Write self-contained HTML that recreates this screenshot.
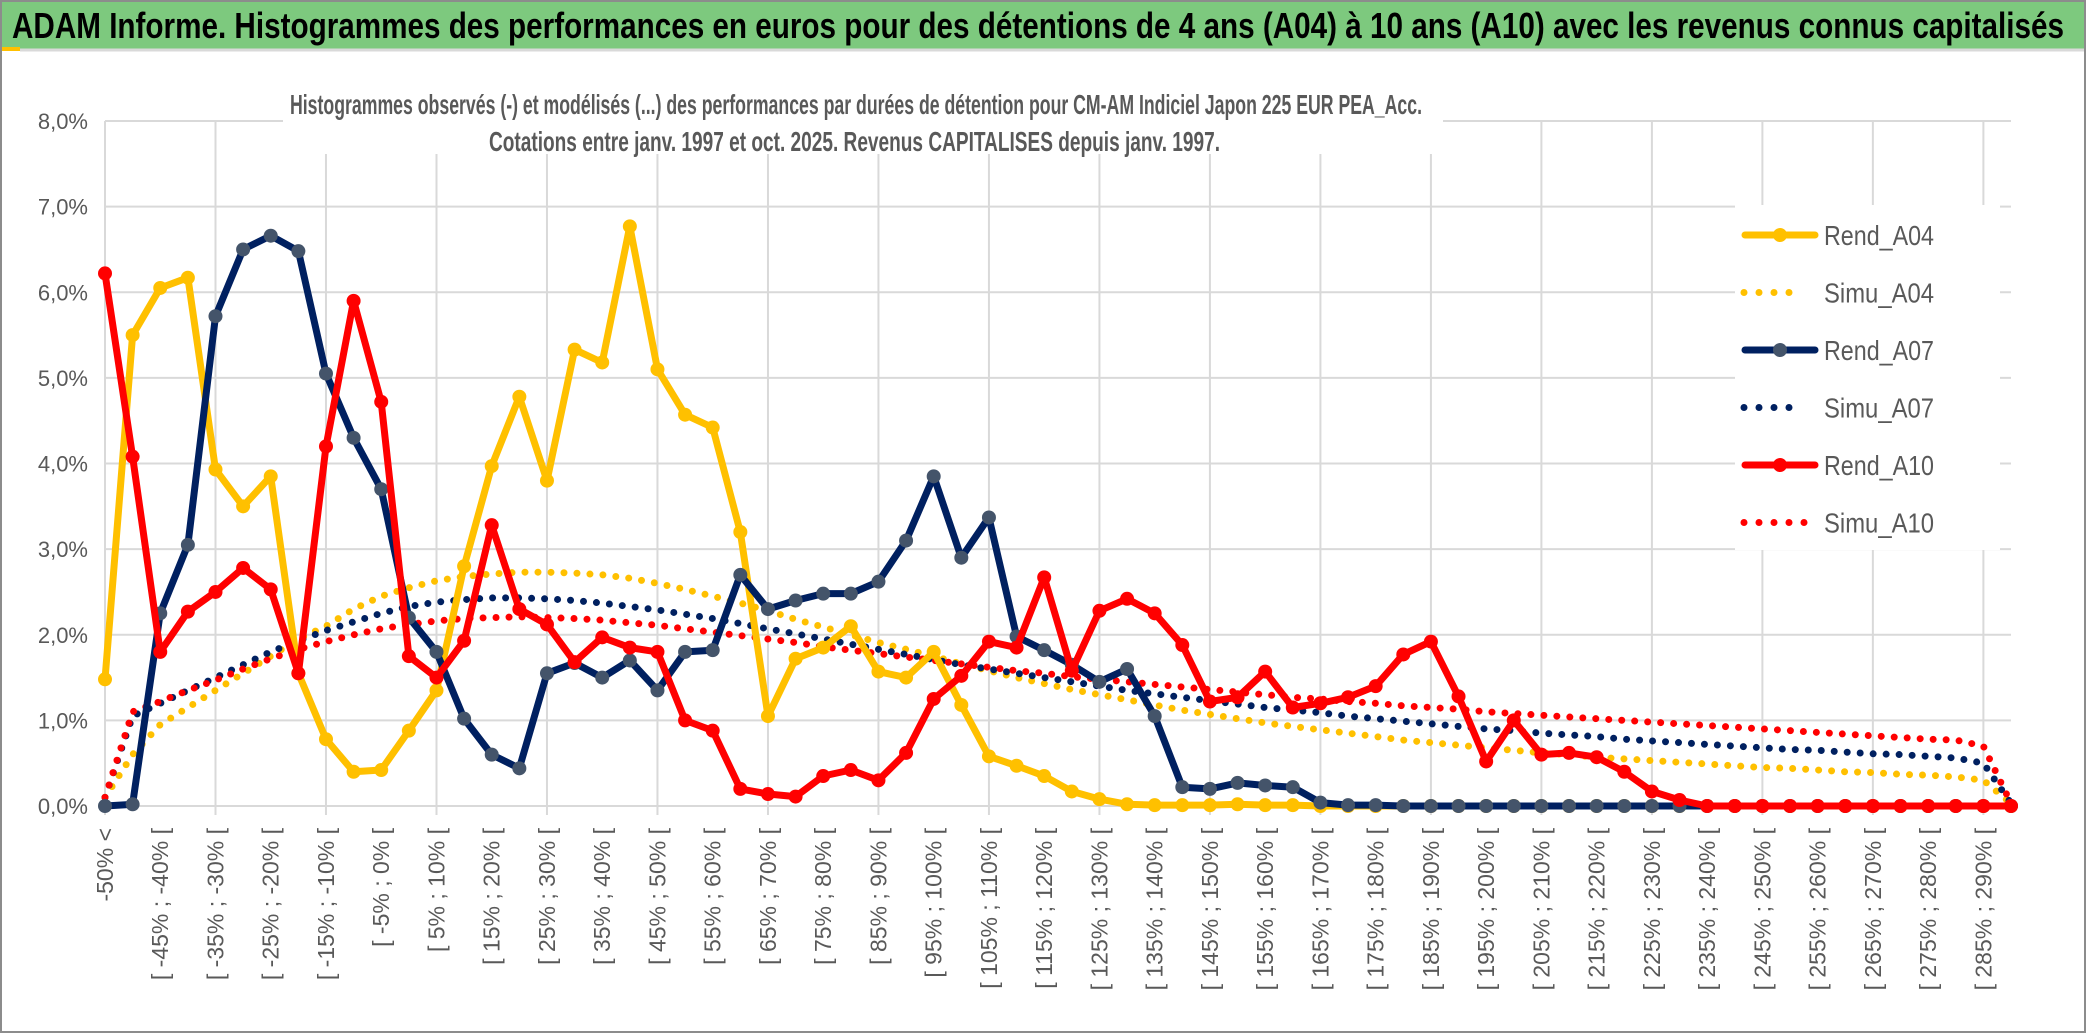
<!DOCTYPE html>
<html><head><meta charset="utf-8"><style>
html,body{margin:0;padding:0;background:#fff}
svg{display:block}
text{font-family:"Liberation Sans",sans-serif}
</style></head><body>
<svg id="chart" width="2086" height="1033" viewBox="0 0 2086 1033" xmlns="http://www.w3.org/2000/svg">
<rect x="0" y="0" width="2086" height="1033" fill="#fff"/>
<rect x="1" y="1" width="2084" height="1031" fill="none" stroke="#8c8c8c" stroke-width="2"/>
<rect x="2" y="2" width="2082" height="47" fill="#7dc97e"/>
<rect x="2" y="47" width="18" height="4" fill="#ffc000"/>
<line x1="20" y1="50" x2="2084" y2="50" stroke="#d9d9d9" stroke-width="3"/>
<text x="12" y="38" font-size="36" font-weight="bold" fill="#000" textLength="2052" lengthAdjust="spacingAndGlyphs">ADAM Informe. Histogrammes des performances en euros pour des détentions de 4 ans (A04) à 10 ans (A10) avec les revenus connus capitalisés</text>
<g id="grid"></g>
<rect x="283" y="90" width="1160" height="64" fill="#fff"/>
<text x="290" y="114" font-size="28" font-weight="bold" fill="#595959" textLength="1132" lengthAdjust="spacingAndGlyphs">Histogrammes observés (-) et modélisés (...) des performances par durées de détention pour CM-AM Indiciel Japon 225 EUR PEA_Acc.</text>
<text x="489" y="151" font-size="28" font-weight="bold" fill="#595959" textLength="731" lengthAdjust="spacingAndGlyphs">Cotations entre janv. 1997 et oct. 2025. Revenus CAPITALISES depuis janv. 1997.</text>
<g id="yaxis"></g>
<g id="xaxis"></g>
<g id="series"></g>
<g id="legend"></g>
</svg>
<script>
const rendA04 = [1.48,5.5,6.05,6.17,3.93,3.5,3.85,1.55,0.78,0.4,0.42,0.88,1.35,2.8,3.97,4.78,3.8,5.33,5.18,6.77,5.1,4.57,4.42,3.2,1.05,1.72,1.85,2.1,1.57,1.5,1.8,1.18,0.58,0.47,0.35,0.17,0.08,0.02,0.01,0.01,0.01,0.02,0.01,0.01,0,0,0,0,0,0,0,0,0,0,0,0,0,0,0,0,0,0,0,0,0,0,0,0,0,0];
const simuA04 = [0.1,0.6,0.95,1.15,1.35,1.55,1.75,1.95,2.1,2.3,2.45,2.55,2.63,2.68,2.71,2.73,2.73,2.72,2.7,2.66,2.6,2.53,2.45,2.37,2.28,2.18,2.09,2.0,1.91,1.83,1.75,1.66,1.58,1.5,1.43,1.36,1.3,1.24,1.18,1.12,1.07,1.02,0.97,0.93,0.89,0.85,0.81,0.77,0.74,0.71,0.68,0.65,0.62,0.6,0.57,0.55,0.53,0.51,0.49,0.47,0.45,0.44,0.42,0.4,0.39,0.37,0.36,0.34,0.3,0.03];
const rendA07 = [0,0.02,2.25,3.05,5.72,6.5,6.66,6.48,5.05,4.3,3.7,2.2,1.8,1.02,0.6,0.44,1.55,1.67,1.5,1.7,1.35,1.8,1.82,2.7,2.3,2.4,2.48,2.48,2.62,3.1,3.85,2.9,3.37,1.98,1.82,1.65,1.45,1.6,1.05,0.22,0.2,0.27,0.24,0.22,0.04,0.01,0.01,0,0,0,0,0,0,0,0,0,0,0,0,0,0,0,0,0,0,0,0,0,0,0];
const simuA07 = [0.1,1.05,1.2,1.35,1.5,1.65,1.8,1.93,2.05,2.15,2.25,2.33,2.38,2.41,2.43,2.43,2.42,2.4,2.37,2.33,2.29,2.24,2.19,2.13,2.07,2.01,1.95,1.89,1.83,1.77,1.71,1.65,1.6,1.55,1.5,1.45,1.4,1.35,1.31,1.27,1.23,1.19,1.15,1.12,1.09,1.05,1.02,0.99,0.96,0.93,0.9,0.88,0.85,0.83,0.81,0.78,0.76,0.74,0.72,0.7,0.68,0.66,0.65,0.63,0.61,0.6,0.58,0.56,0.5,0.03];
const rendA10 = [6.22,4.08,1.8,2.27,2.5,2.78,2.53,1.55,4.2,5.9,4.72,1.75,1.5,1.93,3.28,2.3,2.12,1.68,1.97,1.85,1.8,1.0,0.88,0.2,0.14,0.11,0.35,0.42,0.3,0.62,1.25,1.52,1.92,1.85,2.67,1.58,2.28,2.42,2.25,1.88,1.22,1.27,1.57,1.15,1.2,1.27,1.4,1.77,1.92,1.28,0.52,1.0,0.6,0.62,0.57,0.4,0.17,0.07,0,0,0,0,0,0,0,0,0,0,0,0];
const simuA10 = [0.1,1.1,1.22,1.35,1.47,1.6,1.72,1.83,1.92,2.0,2.07,2.12,2.16,2.19,2.2,2.21,2.2,2.19,2.17,2.14,2.11,2.07,2.03,1.99,1.95,1.91,1.86,1.82,1.78,1.74,1.7,1.66,1.62,1.58,1.55,1.51,1.48,1.45,1.42,1.39,1.36,1.33,1.3,1.27,1.25,1.22,1.2,1.17,1.15,1.13,1.1,1.08,1.06,1.04,1.02,1.0,0.98,0.96,0.94,0.92,0.9,0.88,0.86,0.84,0.82,0.8,0.78,0.77,0.7,0.03];
const yTicks = [0,1,2,3,4,5,6,7,8];
const yTickLabels = ["0,0%","1,0%","2,0%","3,0%","4,0%","5,0%","6,0%","7,0%","8,0%"];
const categories = ["-50% <"];
for (let i = 1; i < 70; i++) categories.push("[ " + (-55 + 5*i) + "% ; " + (-50 + 5*i) + "% [");

const NS = "http://www.w3.org/2000/svg";
const X0 = 105, X1 = 2011, Y0 = 806, Y8 = 121, YMAX = 8;
const xs = i => X0 + (X1 - X0) * i / (categories.length - 1);
const ys = v => Y0 - (Y0 - Y8) * v / YMAX;
function mk(tag, attrs, parent) {
  const e = document.createElementNS(NS, tag);
  for (const k in attrs) e.setAttribute(k, attrs[k]);
  parent.appendChild(e);
  return e;
}
const grid = document.getElementById('grid');
yTicks.forEach(t => {
  const l = mk('line', {x1: X0, x2: X1, y1: ys(t), y2: ys(t), stroke: '#d9d9d9', 'stroke-width': 2}, grid);
  
  
});
for (let i = 0; i < categories.length; i += 4) {
  const l = mk('line', {x1: xs(i), x2: xs(i), y1: ys(YMAX), y2: Y0 + 9, stroke: '#d9d9d9', 'stroke-width': 2}, grid);
  
  
}
const yax = document.getElementById('yaxis');
yTicks.forEach((t, k) => {
  const tx = mk('text', {x: 88, y: ys(t) + 8, 'font-size': 22, fill: '#595959', 'text-anchor': 'end'}, yax);
  tx.textContent = yTickLabels[k];
  
  
});
const xax = document.getElementById('xaxis');
categories.forEach((c, i) => {
  if (i % 2 !== 0) return;
  const tx = mk('text', {x: 0, y: 0, 'font-size': 23, fill: '#595959', 'text-anchor': 'end',
    transform: 'translate(' + (xs(i) + 8) + ',828) rotate(-90)'}, xax);
  tx.textContent = c;
  
  
});
const ser = document.getElementById('series');
function pts(arr) { return arr.map((v, i) => xs(i).toFixed(1) + ',' + ys(v).toFixed(1)).join(' '); }
function dotted(arr, color, name) {
  const p = mk('polyline', {points: pts(arr), fill: 'none', stroke: color, 'stroke-width': 7, 'stroke-linecap': 'round', 'stroke-dasharray': '0 13'}, ser);
  
  
}
function solid(arr, color, mcolor, name) {
  const g = mk('g', {}, ser);
  
  
  const p = mk('polyline', {points: pts(arr), fill: 'none', stroke: color, 'stroke-width': 7, 'stroke-linejoin': 'round'}, g);
  
  
  arr.forEach((v, i) => {
    const c = mk('circle', {cx: xs(i), cy: ys(v), r: 7, fill: mcolor}, g);
    
    
  });
}
dotted(simuA04, '#ffc000', 'simu-a04-line');
dotted(simuA07, '#002060', 'simu-a07-line');
dotted(simuA10, '#ff0000', 'simu-a10-line');
solid(rendA04, '#ffc000', '#ffc000', 'rend-a04-series');
solid(rendA07, '#002060', '#44546a', 'rend-a07-series');
solid(rendA10, '#ff0000', '#ff0000', 'rend-a10-series');

const legendNames = ["Rend_A04","Simu_A04","Rend_A07","Simu_A07","Rend_A10","Simu_A10"];
const legendColors = ['#ffc000','#ffc000','#002060','#002060','#ff0000','#ff0000'];
const legendMarker = ['#ffc000',null,'#44546a',null,'#ff0000',null];
const legendDotEnd = [0,1790,0,1790,0,1805];
const lg = document.getElementById('legend');
const bg = mk('rect', {x: 1735, y: 205, width: 265, height: 345, fill: '#fff'}, lg);


legendNames.forEach((n, k) => {
  const y = 235 + k * 57.5;
  const g = mk('g', {}, lg);
  
  
  if (legendMarker[k]) {
    mk('line', {x1: 1745, x2: 1815, y1: y, y2: y, stroke: legendColors[k], 'stroke-width': 7, 'stroke-linecap': 'round'}, g);
    mk('circle', {cx: 1780, cy: y, r: 7, fill: legendMarker[k]}, g);
  } else {
    mk('line', {x1: 1744, x2: legendDotEnd[k] + 1, y1: y, y2: y, stroke: legendColors[k], 'stroke-width': 7, 'stroke-linecap': 'round', 'stroke-dasharray': '0 15'}, g);
  }
  const t = mk('text', {x: 1824, y: y + 10, 'font-size': 28, fill: '#595959', textLength: 110, lengthAdjust: 'spacingAndGlyphs'}, g);
  t.textContent = n;
  
  
});
</script>
</body></html>
